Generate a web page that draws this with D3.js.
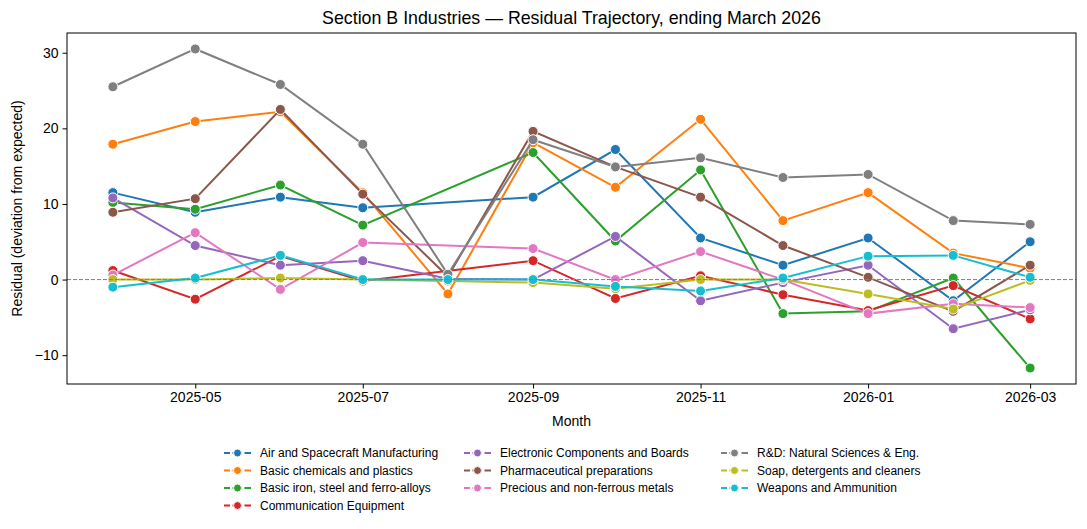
<!DOCTYPE html>
<html>
<head>
<meta charset="utf-8">
<script src="https://cdn.jsdelivr.net/npm/d3@7"></script>
<style>
  body { margin: 0; background: #fff; }
  svg { font-family: "Liberation Sans", Arial, sans-serif; }
</style>
</head>
<body>
<svg id="chart" width="1087" height="529"></svg>
<script>
// months (first of month)
const months = ["2025-04", "2025-05", "2025-06", "2025-07", "2025-08", "2025-09",
                "2025-10", "2025-11", "2025-12", "2026-01", "2026-02", "2026-03"];

const seriesNames = [
  "Air and Spacecraft Manufacturing",
  "Basic chemicals and plastics",
  "Basic iron, steel and ferro-alloys",
  "Communication Equipment",
  "Electronic Components and Boards",
  "Pharmaceutical preparations",
  "Precious and non-ferrous metals",
  "R&D: Natural Sciences & Eng.",
  "Soap, detergents and cleaners",
  "Weapons and Ammunition"
];

// residuals per series, null = no point that month
const air      = [11.5, 8.9, 10.9, 9.5, null, 10.9, 17.2, 5.5, 1.9, 5.5, -2.8, 5.0];
const chem     = [17.9, 20.9, 22.2, 11.5, -1.9, 18.1, 12.2, 21.2, 7.8, 11.5, 3.5, 1.5];
const iron     = [10.2, 9.3, 12.5, 7.2, null, 16.8, 5.1, 14.5, -4.5, -4.2, 0.2, -11.7];
const comm     = [1.2, -2.6, 3.1, -0.2, null, 2.5, -2.5, 0.5, -2.0, -4.1, -0.8, -5.2];
const elec     = [10.8, 4.5, 1.9, 2.5, 0.1, 0.0, 5.7, -2.8, -0.4, 1.9, -6.5, -4.0];
const pharma   = [8.9, 10.7, 22.5, 11.3, 0.4, 19.6, 14.9, 10.9, 4.5, 0.3, -4.2, 1.9];
const precious = [0.6, 6.2, -1.3, 4.9, null, 4.1, 0.0, 3.7, 0.0, -4.5, -3.2, -3.7];
const rnd      = [25.5, 30.5, 25.8, 17.9, 0.7, 18.5, 14.9, 16.1, 13.5, 13.9, 7.8, 7.3];
const soap     = [0.0, 0.0, 0.2, 0.0, -0.2, -0.4, -1.2, 0.0, 0.0, -1.9, -3.9, -0.1];
const weapons  = [-1.0, 0.2, 3.2, 0.0, 0.0, 0.0, -0.9, -1.5, 0.2, 3.1, 3.2, 0.3];

const allValues = [air, chem, iron, comm, elec, pharma, precious, rnd, soap, weapons];
const colors = ["#1f77b4", "#ff7f0e", "#2ca02c", "#d62728", "#9467bd",
                "#8c564b", "#e377c2", "#7f7f7f", "#bcbd22", "#17becf"];

const svg = d3.select("#chart");
const margin = {top: 33, right: 11, bottom: 145, left: 67};
const W = 1087, H = 529;
const iw = W - margin.left - margin.right, ih = H - margin.top - margin.bottom;

const parse = d3.timeParse("%Y-%m");
const dates = months.map(parse);

// matplotlib-style 5% padding
const t0 = dates[0].getTime(), t1 = dates[dates.length - 1].getTime();
const pad = (t1 - t0) * 0.05;
const x = d3.scaleTime().domain([new Date(t0 - pad), new Date(t1 + pad)]).range([0, iw]);

const flat = allValues.flat().filter(v => v != null);
const vmin = d3.min(flat), vmax = d3.max(flat);
const vpad = (vmax - vmin) * 0.05;
const y = d3.scaleLinear().domain([vmin - vpad, vmax + vpad]).range([ih, 0]);

const g = svg.append("g").attr("transform", `translate(${margin.left},${margin.top})`);

// axes
const xAxis = d3.axisBottom(x)
  .tickValues(dates.filter((d, i) => i % 2 === 1))
  .tickFormat(d3.timeFormat("%Y-%m"))
  .tickSizeOuter(0).tickSize(4.5).tickPadding(4);
const gx = g.append("g").attr("transform", `translate(0,${ih})`).call(xAxis);

const yAxis = d3.axisLeft(y).tickValues([-10, 0, 10, 20, 30])
  .tickFormat(d => d < 0 ? "\u2212" + Math.abs(d) : d)
  .tickSizeOuter(0).tickSize(4.5).tickPadding(4);
const gy = g.append("g").call(yAxis);

[gx, gy].forEach(a => {
  a.select(".domain").remove();
  a.selectAll("text").attr("font-size", 14).attr("fill", "#000")
    .attr("font-family", "Liberation Sans, Arial, sans-serif");
  a.selectAll("line").attr("stroke", "#000").attr("stroke-width", 1);
});

// series
const line = d3.line().x(d => x(d.date)).y(d => y(d.value));
allValues.forEach((vals, si) => {
  const pts = vals.map((v, i) => ({date: dates[i], value: v})).filter(d => d.value != null);
  g.append("path").datum(pts)
    .attr("fill", "none").attr("stroke", colors[si]).attr("stroke-width", 2)
    .attr("d", line);
  g.selectAll(null).data(pts).enter().append("circle")
    .attr("cx", d => x(d.date)).attr("cy", d => y(d.value)).attr("r", 5)
    .attr("fill", colors[si]).attr("stroke", "#fff").attr("stroke-width", 1);
});

// zero reference
g.append("line").attr("x1", 0).attr("x2", iw).attr("y1", y(0)).attr("y2", y(0))
  .attr("stroke", "#808080").attr("stroke-width", 1).attr("stroke-dasharray", "4,2");

// frame
g.append("rect").attr("width", iw).attr("height", ih)
  .attr("fill", "none").attr("stroke", "#000").attr("stroke-width", 1);

// titles
svg.append("text").attr("x", margin.left + iw / 2).attr("y", 24)
  .attr("text-anchor", "middle").attr("font-size", 17.8).text("Section B Industries \u2014 Residual Trajectory, ending March 2026");
svg.append("text").attr("x", margin.left + iw / 2).attr("y", 426)
  .attr("text-anchor", "middle").attr("font-size", 14).text("Month");
svg.append("text").attr("transform", `translate(22,${margin.top + ih / 2}) rotate(-90)`)
  .attr("text-anchor", "middle").attr("font-size", 14).text("Residual (deviation from expected)");

// legend: 3 columns (4, 3, 3 items)
const colX = [224, 464, 721];
const rowY = [453, 470.5, 488, 505.5];
const colOf = [0, 0, 0, 0, 1, 1, 1, 2, 2, 2];
const rowOf = [0, 1, 2, 3, 0, 1, 2, 0, 1, 2];
const leg = svg.append("g");
seriesNames.forEach((name, i) => {
  const lx = colX[colOf[i]], ly = rowY[rowOf[i]];
  const item = leg.append("g").attr("transform", `translate(${lx},${ly})`);
  item.append("line").attr("x1", 0).attr("x2", 27).attr("y1", 0).attr("y2", 0)
    .attr("stroke", colors[i]).attr("stroke-width", 2).attr("stroke-dasharray", "6,2.5,9.5,2.5,7");
  item.append("circle").attr("cx", 13.5).attr("cy", 0).attr("r", 4)
    .attr("fill", colors[i]).attr("stroke", "#fff").attr("stroke-width", 1);
  item.append("text").attr("x", 36).attr("y", 0).attr("dy", "0.35em")
    .attr("font-size", 12).text(name);
});
</script>
</body>
</html>
